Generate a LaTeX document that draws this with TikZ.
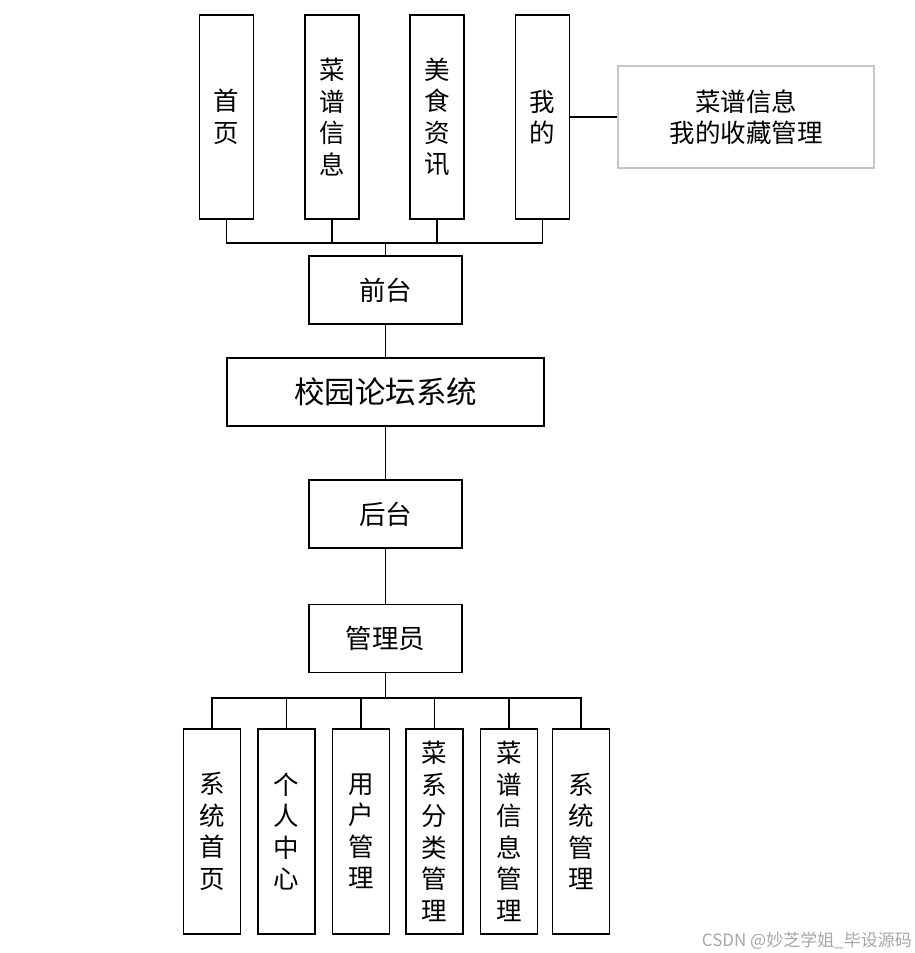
\documentclass[tikz,border=0pt]{standalone}
\usepackage{fontspec}
\newfontfamily\cjk{Noto Sans CJK SC}
\usetikzlibrary{positioning}
\tikzset{
  box/.style={draw=black, line width=1.6pt, fill=white, rectangle, inner sep=0pt,
    font=\cjk\fontsize{25.5}{31.5}\selectfont, align=center},
  vbox/.style={box, minimum width=54pt, minimum height=204pt},
  bbox/.style={box, minimum width=57pt, minimum height=205pt},
  hbox/.style={box, minimum width=153pt, minimum height=68pt, font=\cjk\fontsize{26.5}{32}\selectfont},
  conn/.style={draw=black, line width=1.6pt},
}
\begin{document}
\begin{tikzpicture}[x=1pt,y=-1pt]
\useasboundingbox (0,0) rectangle (915,953);
% top level
\node[vbox] (t1) at (226.5,117) {首\\页};
\node[vbox] (t2) at (332,117) {菜\\谱\\信\\息};
\node[vbox] (t3) at (437,117) {美\\食\\资\\讯};
\node[vbox] (t4) at (542.5,117) {我\\的};
\node[box, draw=black!22, line width=1.2pt, minimum width=256pt, minimum height=102pt] (r) at (746,117) {菜谱信息\\我的收藏管理};
\node[hbox] (qt) at (385.5,290) {前台};
\node[box, minimum width=317pt, minimum height=68pt, font=\cjk\fontsize{30.5}{36}\selectfont] (sys) at (385.5,392) {校园论坛系统};
\node[hbox] (ht) at (385.5,514) {后台};
\node[hbox] (gly) at (385.5,638.5) {管理员};
% bottom level
\node[bbox] (b1) at (212,831.5) {系\\统\\首\\页};
\node[bbox] (b2) at (286.5,831.5) {个\\人\\中\\心};
\node[bbox] (b3) at (361,831.5) {用\\户\\管\\理};
\node[bbox] (b4) at (434.5,831.5) {菜\\系\\分\\类\\管\\理};
\node[bbox] (b5) at (509,831.5) {菜\\谱\\信\\息\\管\\理};
\node[bbox] (b6) at (581,831.5) {系\\统\\管\\理};
% connectors
\coordinate (busT) at (385.5,243);
\coordinate (busB) at (385.5,698);
\draw[conn] (t1.south) |- (busT);
\draw[conn] (t2.south) |- (busT);
\draw[conn] (t3.south) |- (busT);
\draw[conn] (t4.south) |- (busT);
\draw[conn] (busT) -- (qt.north);
\draw[conn] (t4.east) -- (r.west);
\draw[conn] (qt.south) -- (sys.north);
\draw[conn] (sys.south) -- (ht.north);
\draw[conn] (ht.south) -- (gly.north);
\draw[conn] (gly.south) -- (busB);
\foreach \b in {b1,b2,b3,b4,b5,b6}{\draw[conn] (\b.north) |- (busB);}
% watermark
\node[anchor=base east, text=black!35, font=\cjk\fontsize{17}{20}\selectfont, inner sep=0pt] (wm) at (912,946) {CSDN @妙芝学姐\_毕设源码};
\end{tikzpicture}
\end{document}
